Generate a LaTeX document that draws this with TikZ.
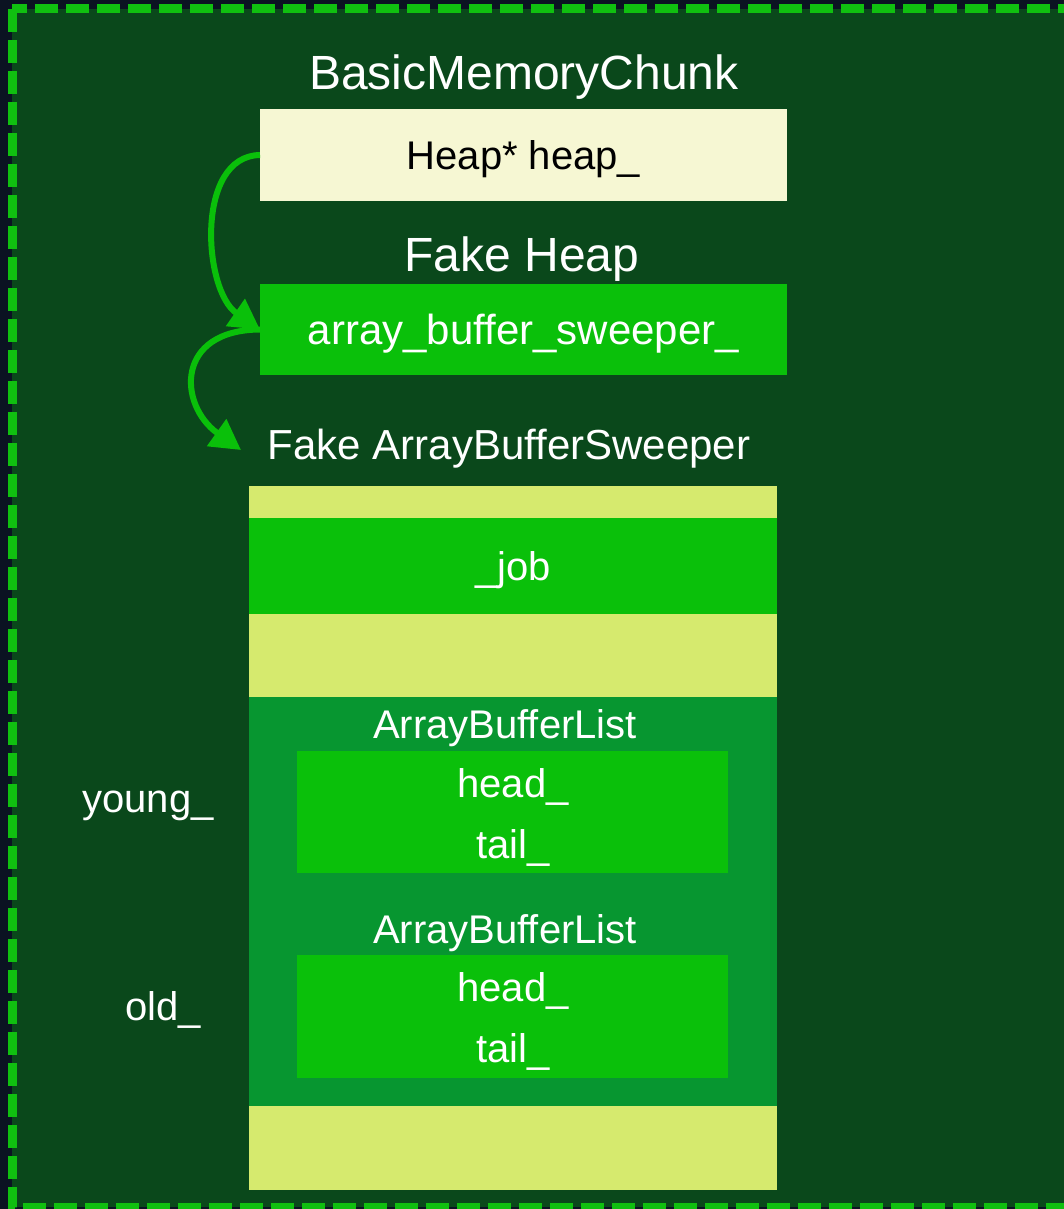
\documentclass[tikz,border=0pt]{standalone}
\usepackage{fontspec}
\setmainfont{Liberation Sans}
\usetikzlibrary{arrows.meta}
\definecolor{navy}{HTML}{0B1322}
\definecolor{bgreen}{HTML}{0A481B}
\definecolor{dashg}{HTML}{10C010}
\definecolor{cream}{HTML}{F6F7D3}
\definecolor{brightg}{HTML}{0AC00A}
\definecolor{ylw}{HTML}{D6EA6E}
\definecolor{midg}{HTML}{079630}
\newcommand{\fs}[1]{\fontsize{#1}{#1}\selectfont}
\tikzset{
  cell/.style={draw=none, inner sep=0pt, outer sep=0pt, anchor=north west},
  lbl/.style={text=white, inner sep=0pt, yshift=-4pt},
  arr/.style={draw=brightg, line width=6pt, -{Triangle[length=30pt,width=32pt]}},
}
\begin{document}
\begin{tikzpicture}[x=1pt,y=-1pt]
\useasboundingbox (0,0) rectangle (1064,1209);
\fill[navy] (0,0) rectangle (1064,1209);
\path[fill=bgreen, draw=dashg, line width=9pt, dash pattern=on 23pt off 8pt] (12,9) rectangle (1100,1207);

% Basic memory chunk
\node[lbl, font=\fs{48}] (tbmc) at (524,73) {BasicMemoryChunk};
\node[cell, fill=cream, minimum width=527pt, minimum height=92pt] (heapbox) at (260,109) {};
\node[lbl, font=\fs{40}, text=black] (heaptxt) at (heapbox.center) {Heap* heap\_};

% Fake heap
\node[lbl, font=\fs{48}] (tfh) at (522,255) {Fake Heap};
\node[cell, fill=brightg, minimum width=527pt, minimum height=91pt] (sweepbox) at (260,284) {};
\node[lbl, font=\fs{42}] (sweeptxt) at (sweepbox.center) {array\_buffer\_sweeper\_};

% Fake ArrayBufferSweeper
\node[lbl, font=\fs{42}] (tfabs) at (509,445) {Fake ArrayBufferSweeper};
\node[cell, fill=ylw, minimum width=528pt, minimum height=32pt] (y1) at (249,486) {};
\node[cell, fill=brightg, minimum width=528pt, minimum height=96pt] (job) at (249,518) {};
\node[lbl, font=\fs{40}] (jobtxt) at (job.center) {\_job};
\node[cell, fill=ylw, minimum width=528pt, minimum height=83pt] (y2) at (249,614) {};
\node[cell, fill=midg, minimum width=528pt, minimum height=409pt] (abl) at (249,697) {};
\node[cell, fill=ylw, minimum width=528pt, minimum height=84pt] (y3) at (249,1106) {};

% young_
\node[lbl, font=\fs{40}] (abl1) at (505,724) {ArrayBufferList};
\node[cell, fill=brightg, minimum width=431pt, minimum height=122pt] (in1) at (297,751) {};
\node[lbl, font=\fs{40}] (h1) at (513,783) {head\_};
\node[lbl, font=\fs{40}] (t1) at (513,844) {tail\_};
\node[lbl, font=\fs{40}] (young) at (148,802) {young\_};

% old_
\node[lbl, font=\fs{40}] (abl2) at (505,929) {ArrayBufferList};
\node[cell, fill=brightg, minimum width=431pt, minimum height=123pt] (in2) at (297,955) {};
\node[lbl, font=\fs{40}] (h2) at (513,987) {head\_};
\node[lbl, font=\fs{40}] (t2) at (513,1048) {tail\_};
\node[lbl, font=\fs{40}] (old) at (163,1006) {old\_};

% arrows
\coordinate (tip2) at (241,450);
\draw[arr] (heapbox.west) .. controls (195,156) and (203,290) .. (sweepbox.west);
\draw[arr] (sweepbox.west) .. controls (175,330) and (178,405) .. (tip2);
\end{tikzpicture}
\end{document}
